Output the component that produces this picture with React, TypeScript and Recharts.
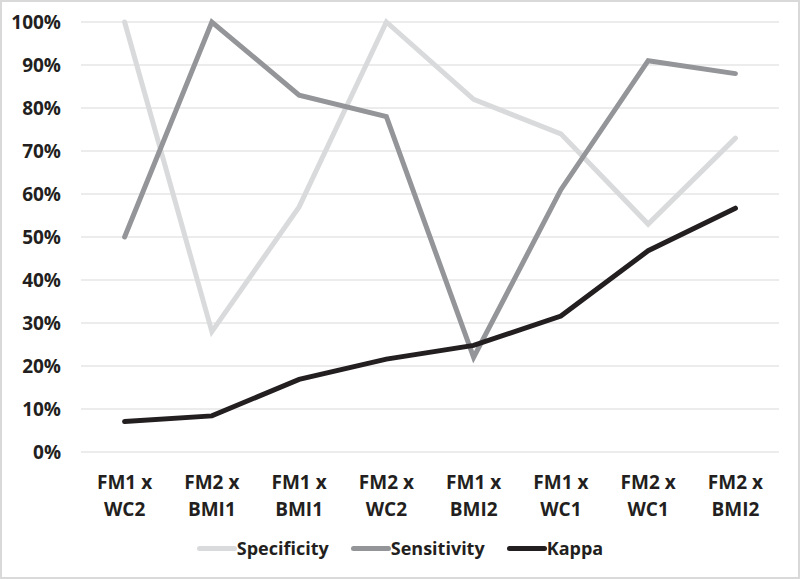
import { CartesianGrid, Legend, Line, LineChart, XAxis, YAxis } from "recharts";

const categories = [
    "FM1 x\nWC2",
    "FM2 x\nBMI1",
    "FM1 x\nBMI1",
    "FM2 x\nWC2",
    "FM1 x\nBMI2",
    "FM1 x\nWC1",
    "FM2 x\nWC1",
    "FM2 x\nBMI2",
];
const specificity = [100, 28, 57, 100, 82, 74, 53, 73];
const sensitivity = [50, 100, 83, 78, 22, 61, 91, 88];
const kappa = [7.1, 8.4, 16.9, 21.6, 24.8, 31.6, 46.8, 56.7];
const yTicks = [0, 10, 20, 30, 40, 50, 60, 70, 80, 90, 100];
const seriesOrder = ["Specificity", "Sensitivity", "Kappa"];

const FONT = "'Open Sans', sans-serif";
const TEXT = "#231f20";

const data = categories.map((name, i) => ({
    name,
    spec: specificity[i],
    sens: sensitivity[i],
    kappa: kappa[i],
}));

function CategoryTick({ x, y, payload }: any) {
    const lines = String(payload.value).split("\n");
    return (
        <text x={x} y={y} textAnchor="middle" fill={TEXT} fontFamily={FONT} fontWeight={700} fontSize={19}>
            {lines.map((l, i) => (
                <tspan key={i} x={x} dy={i === 0 ? 35 : 27}>
                    {l}
                </tspan>
            ))}
        </text>
    );
}

function LegendContent({ payload }: any) {
    const items = [...(payload || [])].sort(
        (a: any, b: any) => seriesOrder.indexOf(a.value) - seriesOrder.indexOf(b.value)
    );
    return (
        <div style={{ display: "flex", justifyContent: "center", height: 24, alignItems: "center" }}>
            {items.map((p: any) => (
                <div key={p.value} style={{ display: "flex", alignItems: "center", margin: "0 11px" }}>
                    <div style={{ width: 40, height: 5, borderRadius: 3, background: p.color }} />
                    <span style={{ fontFamily: FONT, fontWeight: 700, fontSize: 18, color: TEXT }}>{p.value}</span>
                </div>
            ))}
        </div>
    );
}

export default function App() {
    return (
        <div
            style={{
                position: "fixed",
                left: 0,
                top: 0,
                width: 800,
                height: 579,
                background: "#fff",
                boxSizing: "border-box",
                border: "2px solid #d9d9d9",
            }}
        >
            <div style={{ position: "absolute", left: -2, top: -2 }}>
                <LineChart width={800} height={579} data={data} margin={{ top: 22, right: 21, bottom: 33, left: 0 }}>
                    <CartesianGrid vertical={false} stroke="#d9d9d9" strokeWidth={1.2} />
                    <XAxis
                        dataKey="name"
                        axisLine={false}
                        tickLine={false}
                        tickSize={0}
                        height={70}
                        interval={0}
                        padding={{ left: 43.6, right: 43.6 }}
                        tick={<CategoryTick />}
                    />
                    <YAxis
                        domain={[0, 100]}
                        ticks={yTicks}
                        width={81}
                        axisLine={false}
                        tickLine={false}
                        tickSize={0}
                        tickMargin={20}
                        tickFormatter={(v: number) => `${v}%`}
                        tick={{ fill: TEXT, fontFamily: FONT, fontWeight: 700, fontSize: 19 }}
                    />
                    <Legend
                        verticalAlign="bottom"
                        wrapperStyle={{ bottom: 19, left: 0, width: 800 }}
                        content={<LegendContent />}
                    />
                    <Line
                        dataKey="spec"
                        name="Specificity"
                        stroke="#d9dadb"
                        strokeWidth={5}
                        strokeLinecap="round"
                        dot={false}
                        isAnimationActive={false}
                    />
                    <Line
                        dataKey="sens"
                        name="Sensitivity"
                        stroke="#939598"
                        strokeWidth={5}
                        strokeLinecap="round"
                        dot={false}
                        isAnimationActive={false}
                    />
                    <Line
                        dataKey="kappa"
                        name="Kappa"
                        stroke="#231f20"
                        strokeWidth={5}
                        strokeLinecap="round"
                        dot={false}
                        isAnimationActive={false}
                    />
                </LineChart>
            </div>
        </div>
    );
}
